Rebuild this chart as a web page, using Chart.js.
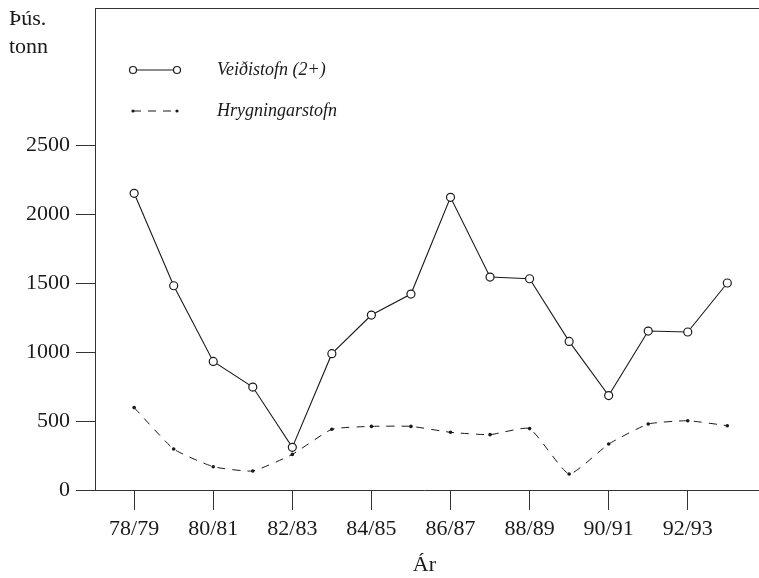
<!DOCTYPE html>
<html><head><meta charset="utf-8">
<script src="https://cdn.jsdelivr.net/npm/chart.js@4/dist/chart.umd.min.js"></script>
<style>html,body{margin:0;padding:0;background:#fff}#wrap{width:759px;height:578px;position:relative}</style>
</head><body><div id="wrap"><canvas id="c" width="759" height="578"></canvas></div>
<script>
const categories = ['78/79','79/80','80/81','81/82','82/83','83/84','84/85','85/86','86/87','87/88','88/89','89/90','90/91','91/92','92/93','93/94'];
const xTickLabels = ['78/79','80/81','82/83','84/85','86/87','88/89','90/91','92/93'];
const veidistofn = [2150,1480,932,746,309,988,1268,1420,2121,1543,1531,1077,684,1152,1145,1500];
const hrygningarstofn = [597,297,169,138,258,440,461,461,418,401,445,116,333,478,502,466];
const yTicks = [0,500,1000,1500,2000,2500];
const seriesNames = ['Veiðistofn (2+)','Hrygningarstofn'];
const yUnit = ['Þús.','tonn'];
const xTitle = 'Ár';

const INK = '#1a1a1a';
const SERIF = '"Liberation Serif", "Times New Roman", serif';

const toPoints = arr => arr.map((v,i)=>({x:i,y:v}));

const frame = {
  id:'frame',
  afterDraw(chart){
    const {ctx, chartArea:a} = chart;
    ctx.save();
    ctx.strokeStyle = '#333'; ctx.lineWidth = 1;
    ctx.beginPath(); ctx.moveTo(a.left, a.top+0.5); ctx.lineTo(chart.width, a.top+0.5); ctx.stroke();
    ctx.beginPath(); ctx.moveTo(a.right, a.bottom+0.5); ctx.lineTo(chart.width, a.bottom+0.5); ctx.stroke();
    ctx.fillStyle = INK; ctx.font = '22px '+SERIF; ctx.textBaseline='alphabetic'; ctx.textAlign='left';
    ctx.fillText(yUnit[0], 9, 25);
    ctx.fillText(yUnit[1], 9, 53);
    const lx1 = 133, lx2 = 177, ty = [70, 111];
    ctx.strokeStyle = INK; ctx.lineWidth = 1;
    ctx.beginPath(); ctx.moveTo(lx1, ty[0]); ctx.lineTo(lx2, ty[0]); ctx.stroke();
    [lx1,lx2].forEach(x=>{ctx.beginPath();ctx.arc(x,ty[0],3.5,0,Math.PI*2);ctx.fillStyle='#fff';ctx.fill();ctx.lineWidth=1.2;ctx.stroke();});
    ctx.lineWidth = 1; ctx.setLineDash([8,7]);
    ctx.beginPath(); ctx.moveTo(lx1, ty[1]); ctx.lineTo(lx2, ty[1]); ctx.stroke();
    ctx.setLineDash([]);
    ctx.fillStyle = INK;
    [lx1,lx2].forEach(x=>{ctx.beginPath();ctx.arc(x,ty[1],1.6,0,Math.PI*2);ctx.fill();});
    ctx.font = 'italic 18px '+SERIF; ctx.textBaseline='middle';
    ctx.fillText(seriesNames[0], 217, ty[0]);
    ctx.fillText(seriesNames[1], 217, ty[1]);
    ctx.restore();
  }
};

new Chart(document.getElementById('c'), {
  type:'line',
  data:{datasets:[
    {label:seriesNames[0], data:toPoints(veidistofn), borderColor:INK, borderWidth:1.1, tension:0,
     pointRadius:4, pointBorderWidth:1.2, pointBackgroundColor:'#fff', pointBorderColor:INK, fill:false},
    {label:seriesNames[1], data:toPoints(hrygningarstofn), borderColor:INK, borderWidth:1, borderDash:[8,7], tension:0.15,
     pointRadius:1.8, pointBorderWidth:0, pointBackgroundColor:INK, fill:false}
  ]},
  options:{
    responsive:false, animation:false, devicePixelRatio:1,
    layout:{padding:{top:8,right:0,left:0,bottom:0}},
    plugins:{legend:{display:false}, tooltip:{enabled:false}},
    scales:{
      x:{type:'linear', min:-0.99, max:15.67,
        afterBuildTicks(s){ s.ticks = xTickLabels.map(l=>({value:categories.indexOf(l)})); },
        afterFit(s){ s.height = 88; s.paddingLeft = 0; s.paddingRight = 0; },
        ticks:{callback:v=>categories[v], font:{family:SERIF,size:22}, color:INK, padding:6, maxRotation:0, autoSkip:false},
        grid:{drawOnChartArea:false, drawTicks:true, tickLength:20, color:'#333', lineWidth:1},
        border:{display:true, color:'#333', width:1},
        title:{display:true, text:xTitle, font:{family:SERIF,size:22}, color:INK, padding:{top:0,bottom:0}}
      },
      y:{min:0, max:3493,
        afterBuildTicks(s){ s.ticks = yTicks.map(v=>({value:v})); },
        afterFit(s){ s.width = 95; s.paddingTop = 0; s.paddingBottom = 0; },
        ticks:{callback:v=>String(v), font:{family:SERIF,size:22}, color:INK, padding:6},
        grid:{drawOnChartArea:false, drawTicks:true, tickLength:19, color:'#333', lineWidth:1},
        border:{display:true, color:'#333', width:1}
      }
    }
  },
  plugins:[frame]
});
</script></body></html>
